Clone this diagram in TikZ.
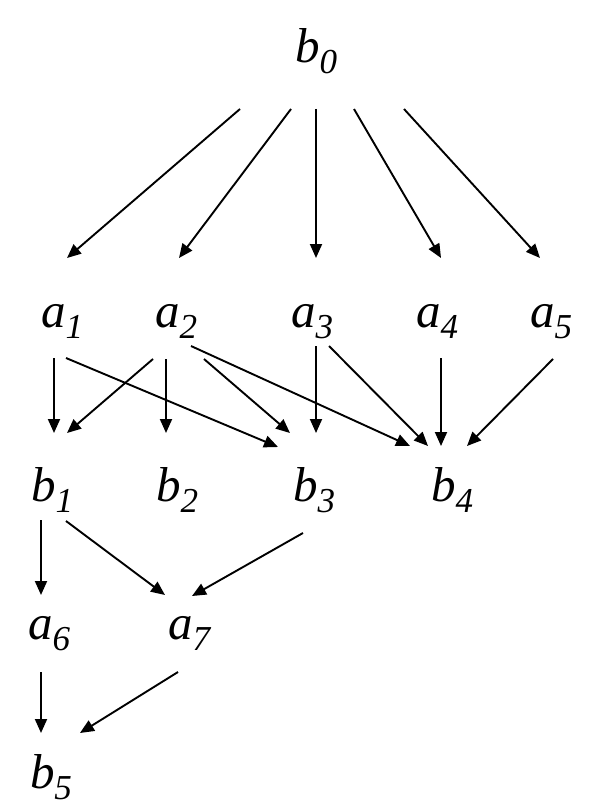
\documentclass[tikz,border=0pt]{standalone}
\usepackage{fontspec}
\setmainfont{Liberation Serif}
\usetikzlibrary{arrows.meta,calc}
\newcommand{\lbl}[2]{\fontsize{49}{49}\selectfont\itshape #1\raisebox{-11pt}{\fontsize{35}{35}\selectfont #2}}
\tikzset{
  vtx/.style={inner sep=0pt, outer sep=0pt, anchor=base west},
  edge/.style={line width=1.9pt, -{Triangle[length=14pt,width=12pt]}}
}
\begin{document}
\begin{tikzpicture}[x=1pt,y=-1pt]
\useasboundingbox (0,0) rectangle (594,810);
% nodes
\node[vtx] (b0) at (295,63) {\lbl{b}{0}};
\node[vtx] (a1) at (41,327) {\lbl{a}{1}};
\node[vtx] (a2) at (155,327) {\lbl{a}{2}};
\node[vtx] (a3) at (291,327) {\lbl{a}{3}};
\node[vtx] (a4) at (416,327) {\lbl{a}{4}};
\node[vtx] (a5) at (530,327) {\lbl{a}{5}};
\node[vtx] (b1) at (31,501) {\lbl{b}{1}};
\node[vtx] (b2) at (156,501) {\lbl{b}{2}};
\node[vtx] (b3) at (293,501) {\lbl{b}{3}};
\node[vtx] (b4) at (431,501) {\lbl{b}{4}};
\node[vtx] (a6) at (28,639) {\lbl{a}{6}};
\node[vtx] (a7) at (168,639) {\lbl{a}{7}};
\node[vtx] (b5) at (30,788) {\lbl{b}{5}};
% b0 -> a row
\draw[edge] ($(b0.base west)+(-55,46)$) -- ($(a1.base west)+(26,-69)$);
\draw[edge] ($(b0.base west)+(-4,46)$) -- ($(a2.base west)+(24,-69)$);
\draw[edge] ($(b0.base west)+(21,46)$) -- ($(a3.base west)+(25,-69)$);
\draw[edge] ($(b0.base west)+(59,46)$) -- ($(a4.base west)+(25,-69)$);
\draw[edge] ($(b0.base west)+(109,46)$) -- ($(a5.base west)+(10,-69)$);
% a row -> b row
\draw[edge] ($(a1.base west)+(13,31)$) -- ($(b1.base west)+(23,-68)$);
\draw[edge] ($(a1.base west)+(25,31)$) -- ($(b3.base west)+(-15,-54)$);
\draw[edge] ($(a2.base west)+(-2,32)$) -- ($(b1.base west)+(36,-68)$);
\draw[edge] ($(a2.base west)+(11,32)$) -- ($(b2.base west)+(10,-68)$);
\draw[edge] ($(a2.base west)+(49,32)$) -- ($(b3.base west)+(-3,-68)$);
\draw[edge] ($(a2.base west)+(36,19)$) -- ($(b4.base west)+(-21,-55)$);
\draw[edge] ($(a3.base west)+(25,19)$) -- ($(b3.base west)+(23,-68)$);
\draw[edge] ($(a3.base west)+(38,19)$) -- ($(b4.base west)+(-3,-55)$);
\draw[edge] ($(a4.base west)+(25,31)$) -- ($(b4.base west)+(10,-55)$);
\draw[edge] ($(a5.base west)+(23,32)$) -- ($(b4.base west)+(36,-55)$);
% b row -> a6, a7
\draw[edge] ($(b1.base west)+(10,19)$) -- ($(a6.base west)+(13,-44)$);
\draw[edge] ($(b1.base west)+(35,20)$) -- ($(a7.base west)+(-3,-44)$);
\draw[edge] ($(b3.base west)+(10,32)$) -- ($(a7.base west)+(24,-43)$);
% -> b5
\draw[edge] ($(a6.base west)+(13,33)$) -- ($(b5.base west)+(11,-55)$);
\draw[edge] ($(a7.base west)+(10,33)$) -- ($(b5.base west)+(50,-55)$);
\end{tikzpicture}
\end{document}
